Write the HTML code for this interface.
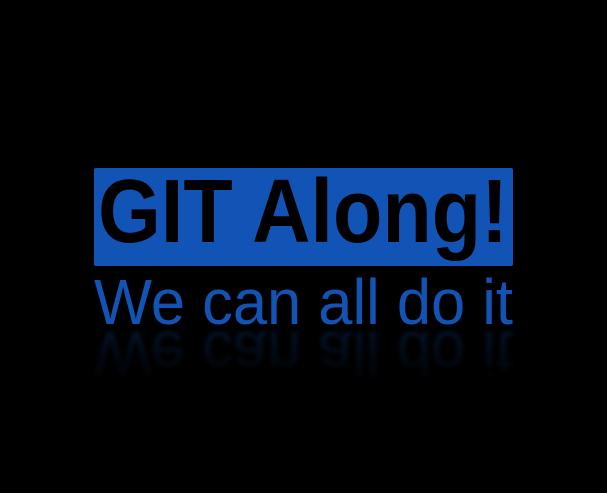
<!DOCTYPE html>
<html><head><meta charset="utf-8"><style>
html,body{margin:0;padding:0;background:#000;width:607px;height:493px;overflow:hidden}
</style></head><body>
<svg width="607" height="493" viewBox="0 0 607 493" xmlns="http://www.w3.org/2000/svg">
<defs>
<linearGradient id="fade" x1="0" y1="0" x2="0" y2="1">
<stop offset="0" stop-color="#fff" stop-opacity="0.25"/>
<stop offset="1" stop-color="#fff" stop-opacity="0"/>
</linearGradient>
<mask id="m"><rect x="0" y="326" width="607" height="60" fill="url(#fade)"/></mask>
<filter id="blur"><feGaussianBlur stdDeviation="2"/></filter>
</defs>
<rect width="607" height="493" fill="#000"/>
<rect x="94" y="168" width="419" height="98" rx="2" fill="#1254b5"/>
<text x="98" y="242" font-family="Liberation Sans, sans-serif" font-weight="bold" font-size="90" fill="#000" textLength="410" lengthAdjust="spacingAndGlyphs">GIT Along!</text>
<text x="94" y="324" font-family="Liberation Sans, sans-serif" font-size="64" fill="#1254b5" stroke="#000" stroke-width="2.4" paint-order="stroke" textLength="419" lengthAdjust="spacingAndGlyphs">We can all do it</text>
<g mask="url(#m)" filter="url(#blur)">
<text transform="translate(0,656) scale(1,-1)" x="94" y="324" font-family="Liberation Sans, sans-serif" font-size="64" fill="#1254b5" textLength="419" lengthAdjust="spacingAndGlyphs">We can all do it</text>
</g>
</svg>
</body></html>
